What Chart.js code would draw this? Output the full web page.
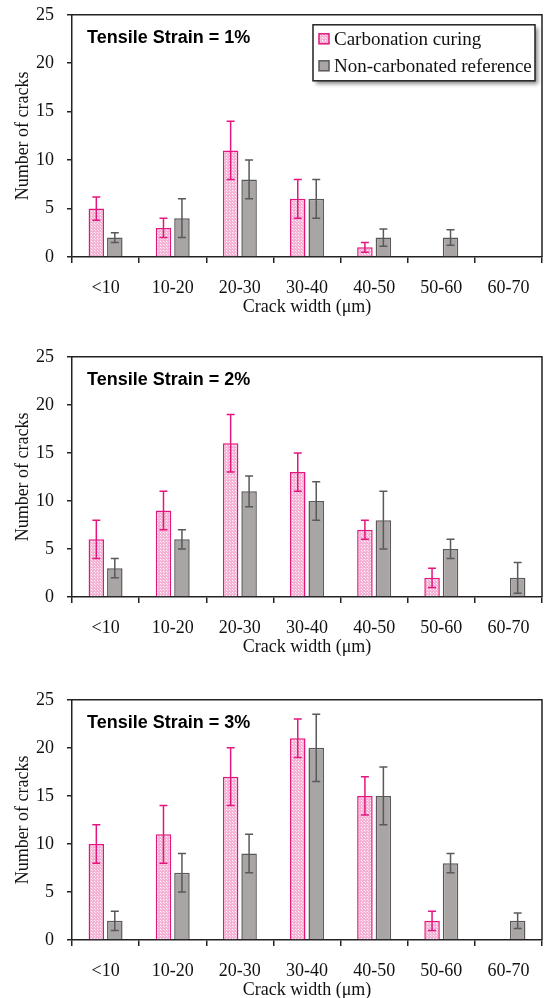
<!DOCTYPE html>
<html><head><meta charset="utf-8">
<script src="https://cdn.jsdelivr.net/npm/chart.js@4/dist/chart.umd.min.js"></script>
<style>
html,body{margin:0;padding:0;background:#fff;overflow:hidden;width:544px;height:998px;}
canvas{position:absolute;left:0;}
</style></head><body>
<canvas id="c1"></canvas><canvas id="c2"></canvas><canvas id="c3"></canvas>
<script>
const categories = ['<10','10-20','20-30','30-40','40-50','50-60','60-70'];
const seriesNames = ['Carbonation curing','Non-carbonated reference'];
const panelTitles = ['Tensile Strain = 1%','Tensile Strain = 2%','Tensile Strain = 3%'];
const yTicks = [0,5,10,15,20,25];
const xTitle = 'Crack width (μm)';
const yTitle = 'Number of cracks';

const carb1 = [5,3,11,6,1,0,0];
const carb1Err = [1.2,1,3,2,0.5,0,0];
const ref1 = [2,4,8,6,2,2,0];
const ref1Err = [0.5,2,2,2,0.9,0.8,0];

const carb2 = [6,9,16,13,7,2,0];
const carb2Err = [2,2,3,2,1,1,0];
const ref2 = [3,6,11,10,8,5,2];
const ref2Err = [1,1,1.6,2,3,1,1.6];

const carb3 = [10,11,17,21,15,2,0];
const carb3Err = [2,3,3,2,2,1,0];
const ref3 = [2,7,9,20,15,8,2];
const ref3Err = [1,2,2,3.5,3,1,0.8];

const PINK = '#e3167f';
const GRAYF = '#aaa5a5';
const GRAYB = '#595959';
const AXIS = '#222';
const SERIF = "'Liberation Serif','Times New Roman',serif";

function makePattern(){
  const c=document.createElement('canvas'); c.width=3; c.height=3;
  const x=c.getContext('2d');
  x.fillStyle='#f5b2d4'; x.fillRect(0,0,3,3);
  x.fillStyle='#ffffff'; x.fillRect(1,1,1,1);
  x.fillStyle='#fbdcec'; x.fillRect(2,2,1,1);
  return x.createPattern(c,'repeat');
}
const pattern = makePattern();

const errorBars = {
  id:'errorBars',
  afterDatasetsDraw(chart){
    const ctx=chart.ctx, y=chart.scales.y;
    chart.data.datasets.forEach((ds,i)=>{
      const meta=chart.getDatasetMeta(i);
      meta.data.forEach((el,j)=>{
        const v=ds.data[j], e=ds.errors[j];
        if(!v || !e) return;
        const x=el.x, t=y.getPixelForValue(v+e), b=y.getPixelForValue(v-e);
        ctx.save(); ctx.strokeStyle=ds.errorColor; ctx.lineWidth=1.5;
        ctx.beginPath(); ctx.moveTo(x,t); ctx.lineTo(x,b);
        ctx.moveTo(x-4,t); ctx.lineTo(x+4,t); ctx.moveTo(x-4,b); ctx.lineTo(x+4,b);
        ctx.stroke(); ctx.restore();
      });
    });
  }
};

const frame = {
  id:'frame',
  afterDraw(chart){
    const {ctx, chartArea:a} = chart;
    ctx.save(); ctx.strokeStyle=AXIS; ctx.lineWidth=1.5;
    ctx.beginPath(); ctx.moveTo(a.left,a.top); ctx.lineTo(a.right,a.top); ctx.lineTo(a.right,a.bottom); ctx.stroke();
    ctx.restore();
  }
};

const panelTitle = {
  id:'panelTitle',
  afterDraw(chart, args, opts){
    const {ctx, chartArea:a} = chart;
    ctx.save(); ctx.fillStyle='#000'; ctx.font="bold 18px 'Liberation Sans',Arial,sans-serif";
    ctx.textBaseline='alphabetic'; ctx.textAlign='left';
    ctx.fillText(opts.text, a.left+15, a.top+28);
    ctx.restore();
  }
};

const boxLegend = {
  id:'boxLegend',
  afterDraw(chart, args, opts){
    if(!opts.show) return;
    const {ctx, chartArea:a} = chart;
    const w=222, h=56, x=a.right-229, y=a.top+10;
    ctx.save();
    ctx.shadowColor='rgba(0,0,0,0.45)'; ctx.shadowBlur=4; ctx.shadowOffsetX=3; ctx.shadowOffsetY=3;
    ctx.fillStyle='#fff'; ctx.fillRect(x,y,w,h);
    ctx.restore();
    ctx.save();
    ctx.strokeStyle='#222'; ctx.lineWidth=1.5; ctx.strokeRect(x,y,w,h);
    ctx.font="19px "+SERIF; ctx.textBaseline='middle'; ctx.fillStyle='#111';
    chart.data.datasets.forEach((ds,i)=>{
      const cy = y+14+i*27;
      ctx.fillStyle=ds.backgroundColor; ctx.fillRect(x+6,cy-5,10,10);
      ctx.strokeStyle=ds.borderColor; ctx.lineWidth=1.5; ctx.strokeRect(x+6,cy-5,10,10);
      ctx.fillStyle='#111'; ctx.fillText(ds.label, x+21, cy+1);
    });
    ctx.restore();
  }
};

const panels = [
  {id:'c1', top:-9,  h:330, carb:carb1, carbErr:carb1Err, ref:ref1, refErr:ref1Err, title:panelTitles[0], legend:true},
  {id:'c2', top:333, h:328, carb:carb2, carbErr:carb2Err, ref:ref2, refErr:ref2Err, title:panelTitles[1], legend:false},
  {id:'c3', top:676, h:328, carb:carb3, carbErr:carb3Err, ref:ref3, refErr:ref3Err, title:panelTitles[2], legend:false}
];

panels.forEach(p=>{
  const cv=document.getElementById(p.id);
  cv.width=544; cv.height=p.h; cv.style.top=p.top+'px';
  cv.style.width='544px'; cv.style.height=p.h+'px';
  new Chart(cv,{
    type:'bar',
    data:{labels:categories, datasets:[
      {label:seriesNames[0], data:p.carb, errors:p.carbErr, errorColor:PINK,
       backgroundColor:pattern, borderColor:PINK, borderWidth:1.5},
      {label:seriesNames[1], data:p.ref, errors:p.refErr, errorColor:GRAYB,
       backgroundColor:GRAYF, borderColor:GRAYB, borderWidth:1.5}
    ]},
    options:{
      responsive:false, animation:false, devicePixelRatio:1,
      layout:{padding:{top:4,right:2,left:0,bottom:0}},
      datasets:{bar:{categoryPercentage:0.55, barPercentage:0.84}},
      plugins:{legend:{display:false}, tooltip:{enabled:false},
        panelTitle:{text:p.title}, boxLegend:{show:p.legend}},
      scales:{
        x:{
          grid:{offset:true, drawOnChartArea:false, tickLength:6, color:AXIS, lineWidth:1.5},
          border:{color:AXIS, width:1.5},
          ticks:{color:'#111', font:{family:SERIF, size:18}, padding:14, maxRotation:0},
          title:{display:true, text:xTitle, color:'#111', font:{family:SERIF, size:18}, padding:{top:0,bottom:3}},
          afterFit:s=>{s.height=64;}
        },
        y:{
          min:0, max:25,
          afterBuildTicks:s=>{s.ticks=yTicks.map(v=>({value:v}));},
          grid:{drawOnChartArea:false, tickLength:5, color:AXIS, lineWidth:1.5},
          border:{color:AXIS, width:1.5},
          ticks:{color:'#111', font:{family:SERIF, size:18}, padding:13},
          title:{display:true, text:yTitle, color:'#111', font:{family:SERIF, size:18}, padding:{top:12,bottom:0}},
          afterFit:s=>{s.width=72;}
        }
      }
    },
    plugins:[errorBars, frame, panelTitle, boxLegend]
  });
});
</script>
</body></html>
